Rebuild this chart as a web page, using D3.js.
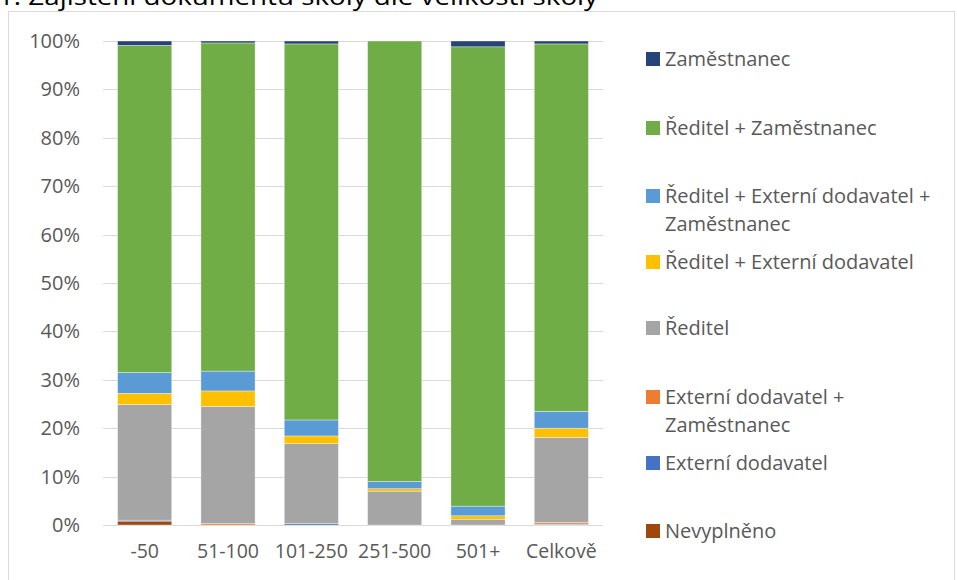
<!DOCTYPE html>
<html>
<head>
<meta charset="utf-8">
<script src="https://cdn.jsdelivr.net/npm/d3@7"></script>
<style>
  body { margin: 0; background: #fff; }
  text { font-family: "Open Sans", sans-serif; }
</style>
</head>
<body>
<svg width="957" height="580"></svg>
<script>
// data (percent of schools)
var categories = ["-50", "51-100", "101-250", "251-500", "501+", "Celkově"];
var series = ["Nevyplněno", "Externí dodavatel", "Externí dodavatel + Zaměstnanec", "Ředitel",
              "Ředitel + Externí dodavatel", "Ředitel + Externí dodavatel + Zaměstnanec",
              "Ředitel + Zaměstnanec", "Zaměstnanec"];
var nevyplneno      = [0.8, 0.0, 0.0, 0.0, 0.0, 0.1];
var externi         = [0.2, 0.0, 0.3, 0.0, 0.0, 0.1];
var externiZam      = [0.0, 0.3, 0.0, 0.0, 0.0, 0.3];
var reditel         = [23.9, 24.2, 16.5, 7.0, 1.2, 17.6];
var reditelExt      = [2.3, 3.2, 1.6, 0.5, 0.7, 1.9];
var reditelExtZam   = [4.3, 4.1, 3.3, 1.5, 2.0, 3.5];
var reditelZam      = [67.6, 67.8, 77.7, 91.0, 94.9, 75.9];
var zamestnanec     = [0.9, 0.4, 0.6, 0.0, 1.2, 0.6];
var yTicks = [0, 0.1, 0.2, 0.3, 0.4, 0.5, 0.6, 0.7, 0.8, 0.9, 1];

var colors = ["#9E480E", "#4472C4", "#ED7D31", "#A5A5A5", "#FFC000", "#5B9BD5", "#70AD47", "#264478"];
var allValues = [nevyplneno, externi, externiZam, reditel, reditelExt, reditelExtZam, reditelZam, zamestnanec];

var table = categories.map(function(c, i) {
    var row = { cat: c };
    series.forEach(function(s, j) { row[s] = allValues[j][i] / 100; });
    return row;
});

var svg = d3.select("svg");

// chart frame
svg.append("rect")
    .attr("x", 8.5).attr("y", 11.5)
    .attr("width", 946).attr("height", 600)
    .attr("fill", "none").attr("stroke", "#d9d9d9");

// title, cut by the top edge as in the source
svg.append("text")
    .attr("x", -2).attr("y", 5)
    .attr("font-size", 24).attr("fill", "#000")
    .attr("textLength", 600).attr("lengthAdjust", "spacingAndGlyphs")
    .text("1: Zajištění dokumentů školy dle velikosti školy");

var x = d3.scaleBand(categories, [103, 603]).paddingInner(0.35).paddingOuter(0.175);
var y = d3.scaleLinear([0, 1], [525, 41]);

// grid
svg.append("g")
    .selectAll("line")
    .data(yTicks)
    .enter().append("line")
    .attr("x1", 103).attr("x2", 603)
    .attr("y1", function(d) { return Math.round(y(d)) + 0.5; })
    .attr("y2", function(d) { return Math.round(y(d)) + 0.5; })
    .attr("stroke", "#d9d9d9").attr("stroke-width", 1.2);

var yAxis = svg.append("g")
    .attr("transform", "translate(83,0)")
    .call(d3.axisLeft(y).tickValues(yTicks).tickFormat(d3.format(".0%")).tickSize(0).tickPadding(3));
yAxis.select(".domain").remove();
yAxis.selectAll("text").attr("font-size", 20).attr("fill", "#595959").attr("font-family", "'Open Sans', sans-serif");

var stack = d3.stack().keys(series);
var layers = stack(table);

svg.append("g")
    .selectAll("g")
    .data(layers)
    .enter().append("g")
    .attr("fill", function(d, i) { return colors[i]; })
    .selectAll("rect")
    .data(function(d) { return d; })
    .enter().append("rect")
    .attr("x", function(d) { return x(d.data.cat); })
    .attr("width", x.bandwidth())
    .attr("y", function(d) { return y(d[1]); })
    .attr("height", function(d) { return y(d[0]) - y(d[1]); })
    .attr("stroke", "#fff").attr("stroke-width", 0.6).attr("stroke-opacity", 0.6);

var xAxis = svg.append("g")
    .attr("transform", "translate(0,525)")
    .call(d3.axisBottom(x).tickSize(0).tickPadding(19));
xAxis.select(".domain").remove();
xAxis.selectAll("text").attr("font-size", 19.5).attr("fill", "#595959").attr("font-family", "'Open Sans', sans-serif");

// legend (top to bottom = reverse stack order)
var legendRows = [
    { k: 7, lines: ["Zaměstnanec"], y: 59 },
    { k: 6, lines: ["Ředitel + Zaměstnanec"], y: 128 },
    { k: 5, lines: ["Ředitel + Externí dodavatel +", "Zaměstnanec"], y: 196 },
    { k: 4, lines: ["Ředitel + Externí dodavatel"], y: 262 },
    { k: 3, lines: ["Ředitel"], y: 328 },
    { k: 2, lines: ["Externí dodavatel +", "Zaměstnanec"], y: 397 },
    { k: 1, lines: ["Externí dodavatel"], y: 463 },
    { k: 0, lines: ["Nevyplněno"], y: 531 }
];

var legend = svg.append("g")
    .selectAll("g")
    .data(legendRows)
    .enter().append("g")
    .attr("transform", function(d) { return "translate(646," + d.y + ")"; });

legend.append("rect")
    .attr("x", 0).attr("y", -7)
    .attr("width", 14).attr("height", 14)
    .attr("fill", function(d) { return colors[d.k]; });

legend.append("text")
    .attr("x", 19).attr("y", 7)
    .attr("font-size", 20).attr("fill", "#595959")
    .selectAll("tspan")
    .data(function(d) { return d.lines; })
    .enter().append("tspan")
    .attr("x", 19)
    .attr("dy", function(d, i) { return i ? 28 : 0; })
    .text(function(d) { return d; });
</script>
</body>
</html>
